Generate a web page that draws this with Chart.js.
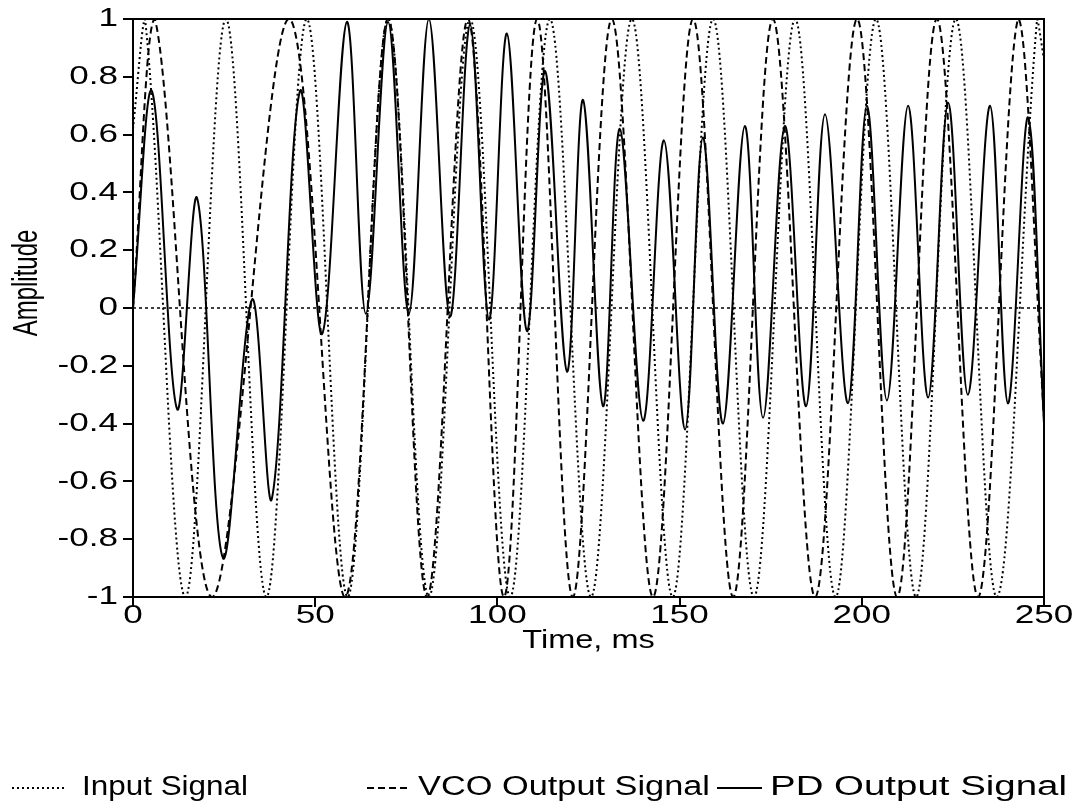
<!DOCTYPE html>
<html>
<head>
<meta charset="utf-8">
<script src="https://cdn.jsdelivr.net/npm/chart.js@4.4.0/dist/chart.umd.min.js"></script>
<style>
  html, body { margin: 0; padding: 0; background: #fff; }
</style>
</head>
<body>
<canvas id="pllChart" width="1075" height="803"></canvas>
<script>
// tick labels
const xTickLabels = ['0', '50', '100', '150', '200', '250'];
const yTickLabels = ['1', '0.8', '0.6', '0.4', '0.2', '0', '-0.2', '-0.4', '-0.6', '-0.8', '-1'];

// Input signal (ms / amplitude), peaks and troughs
const inputTime = [0, 3.3, 14.4, 25.5, 36.6, 47.7, 58.9, 70.0, 81.2, 92.5, 103.5, 114.4, 125.7,
  136.9, 148.1, 159.2, 170.4, 181.7, 192.8, 203.9, 214.9, 225.8, 237.0, 248.1, 250];
const inputValues = [0.62, 1, -1, 1, -1, 1, -1, 1, -1, 1, -1, 1, -1,
  1, -1, 1, -1, 1, -1, 1, -1, 1, -1, 1, 0.86];

// VCO output
const vcoTime = [0, 6.0, 21.7, 42.8, 58.2, 70.0, 80.7, 91.9, 101.8, 110.9, 120.7, 131.4, 142.7,
  153.7, 164.7, 175.6, 187.2, 198.7, 209.7, 220.6, 231.9, 242.9, 250];
const vcoValues = [0, 1, -1, 1, -1, 1, -1, 1, -1, 1, -1, 1, -1,
  1, -1, 1, -1, 1, -1, 1, -1, 1, -0.38];

// PD output
const pdTime = [0, 5.2, 12.1, 17.6, 24.7, 32.7, 38.1, 45.8, 51.9, 58.7, 63.9, 70.0, 75.7, 81.2,
  87.0, 92.5, 97.7, 102.6, 108.1, 113.1, 119.1, 123.5, 129.0, 133.6, 140.0, 145.7, 151.5,
  156.4, 161.9, 167.9, 172.9, 178.9, 184.7, 189.9, 196.2, 201.4, 206.9, 212.7, 218.2,
  223.7, 229.1, 235.2, 240.1, 245.6, 250];
const pdValues = [0, 0.75, -0.35, 0.38, -0.865, 0.03, -0.66, 0.75, -0.09, 0.99, -0.02, 0.99, -0.02, 1.0,
  -0.03, 0.98, -0.04, 0.95, -0.08, 0.82, -0.22, 0.72, -0.34, 0.62, -0.39, 0.58, -0.42,
  0.59, -0.40, 0.63, -0.38, 0.63, -0.34, 0.67, -0.33, 0.70, -0.32, 0.70, -0.31,
  0.71, -0.30, 0.70, -0.33, 0.66, -0.40];

const zeroTime = [0, 250];
const zeroValues = [0, 0];

const toPoints = (t, v) => t.map((x, i) => ({ x: x, y: v[i] }));

const FONT = '"Liberation Sans", Arial, sans-serif';

// text is drawn a bit wider than the font, like the original
function drawText(ctx, text, x, y, align, size, stretch, rotate) {
  ctx.save();
  ctx.font = size + 'px ' + FONT;
  ctx.fillStyle = '#000';
  ctx.translate(x, y);
  if (rotate) {
    ctx.rotate(-Math.PI / 2);
    ctx.scale(1, stretch);
  } else {
    ctx.scale(stretch, 1);
  }
  ctx.textAlign = align;
  ctx.textBaseline = 'middle';
  ctx.fillText(text, 0, 0);
  ctx.restore();
}

// frame, tick labels, titles and the legend row
const textPlugin = {
  id: 'textPlugin',
  afterDraw(chart) {
    const ctx = chart.ctx;
    const a = chart.chartArea;
    const xs = chart.scales.x, ys = chart.scales.y;

    ctx.save();
    ctx.strokeStyle = '#000';
    ctx.lineWidth = 2;
    ctx.strokeRect(a.left, a.top, a.right - a.left, a.bottom - a.top);
    ctx.restore();

    yTickLabels.forEach(l => drawText(ctx, l, a.left - 15, ys.getPixelForValue(parseFloat(l)), 'right', 26, 1.35));
    xTickLabels.forEach(l => drawText(ctx, l, xs.getPixelForValue(parseFloat(l)), a.bottom + 19, 'center', 26, 1.35));
    drawText(ctx, 'Time, ms', (a.left + a.right) / 2, a.bottom + 44, 'center', 26, 1.25);
    drawText(ctx, 'Amplitude', 27, 283, 'center', 24, 1.45, true);

    // legend: each label squeezed to the width it has in the original
    const ly = 788;
    const items = [
      { x: 12, len: 53, text: 82, width: 166, dash: [2, 3], label: 'Input Signal' },
      { x: 367, len: 43, text: 418, width: 292, dash: [7, 4], label: 'VCO Output Signal' },
      { x: 717, len: 45, text: 770, width: 297, dash: [], label: 'PD Output Signal' }
    ];
    items.forEach(it => {
      ctx.save();
      ctx.strokeStyle = '#000';
      ctx.lineWidth = 2;
      ctx.setLineDash(it.dash);
      ctx.beginPath();
      ctx.moveTo(it.x, ly);
      ctx.lineTo(it.x + it.len, ly);
      ctx.stroke();
      ctx.font = '27px ' + FONT;
      const w = ctx.measureText(it.label).width;
      ctx.restore();
      drawText(ctx, it.label, it.text, ly, 'left', 27, it.width / w);
    });
  }
};

const ctx = document.getElementById('pllChart').getContext('2d');
new Chart(ctx, {
  type: 'line',
  data: {
    datasets: [
      {
        label: 'PD Output Signal',
        data: toPoints(pdTime, pdValues),
        borderColor: '#000',
        borderWidth: 2,
        tension: 0.35
      },
      {
        label: 'VCO Output Signal',
        data: toPoints(vcoTime, vcoValues),
        borderColor: '#000',
        borderWidth: 2,
        borderDash: [7, 4],
        tension: 0.35
      },
      {
        label: 'Input Signal',
        data: toPoints(inputTime, inputValues),
        borderColor: '#000',
        borderWidth: 2,
        borderDash: [2, 3],
        tension: 0.35
      },
      {
        label: 'zero',
        data: toPoints(zeroTime, zeroValues),
        borderColor: '#000',
        borderWidth: 1.5,
        borderDash: [3, 3]
      }
    ]
  },
  options: {
    responsive: false,
    animation: false,
    devicePixelRatio: 1,
    elements: { point: { radius: 0 } },
    layout: { padding: { left: 123, top: 19, right: 31, bottom: 196 } },
    plugins: { legend: { display: false }, tooltip: { enabled: false } },
    scales: {
      x: {
        type: 'linear',
        min: 0,
        max: 250,
        ticks: { stepSize: 50, display: false },
        grid: { drawOnChartArea: false, tickLength: 10, color: '#000', lineWidth: 2 },
        border: { color: '#000', width: 2 }
      },
      y: {
        min: -1,
        max: 1,
        ticks: { stepSize: 0.2, display: false },
        grid: { drawOnChartArea: false, tickLength: 10, color: '#000', lineWidth: 2 },
        border: { color: '#000', width: 2 }
      }
    }
  },
  plugins: [textPlugin]
});
</script>
</body>
</html>
